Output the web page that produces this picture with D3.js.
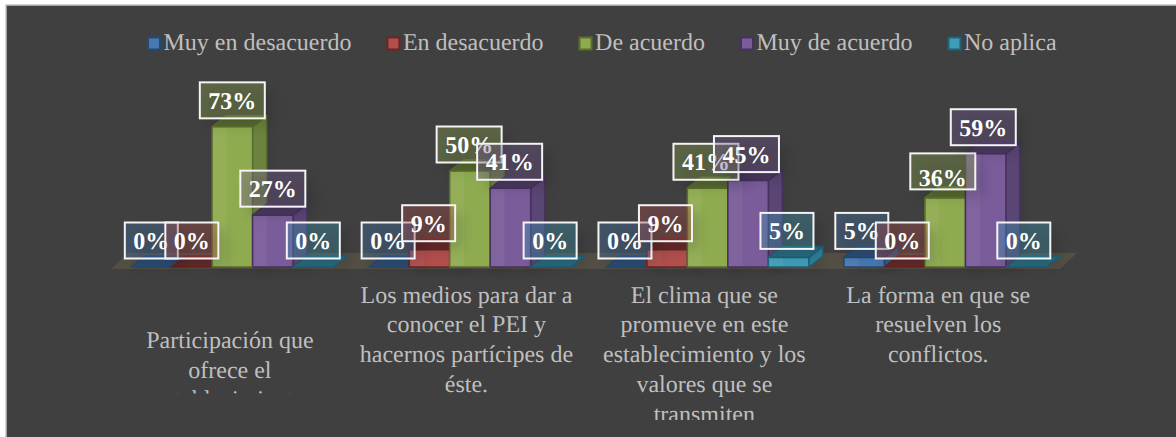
<!DOCTYPE html>
<html><head><meta charset="utf-8">
<script src="https://cdn.jsdelivr.net/npm/d3@7"></script>
<style>html,body{margin:0;padding:0;background:#fff;overflow:hidden}svg{display:block}text{font-family:"Liberation Serif",serif;text-rendering:geometricPrecision}</style>
</head><body><svg id="c" width="1176" height="437"></svg>
<script>
const categories = ["Participación que ofrece el establecimiento","Los medios para dar a conocer el PEI y hacernos partícipes de éste.","El clima que se promueve en este establecimiento y los valores que se transmiten","La forma en que se resuelven los conflictos."];
const categoryLines = [
  ["Participación que","ofrece el","establecimiento"],
  ["Los medios para dar a","conocer el PEI y","hacernos partícipes de","éste."],
  ["El clima que se","promueve en este","establecimiento y los","valores que se","transmiten"],
  ["La forma en que se","resuelven los","conflictos."]
];
const seriesNames = ["Muy en desacuerdo","En desacuerdo","De acuerdo","Muy de acuerdo","No aplica"];
const muyEnDesacuerdo = [0,0,0,5];
const enDesacuerdo = [0,9,9,0];
const deAcuerdo = [73,50,41,36];
const muyDeAcuerdo = [27,41,45,59];
const noAplica = [0,0,5,0];
const seriesValues = [muyEnDesacuerdo,enDesacuerdo,deAcuerdo,muyDeAcuerdo,noAplica];
const baseColors = ["#4878b0","#b04f4c","#8fab50","#795c99","#3f9db8"];
const edgeColors = ["#234a75","#6d2523","#5a6f2e","#47325f","#1f6277"];
const sideColors = ["#38608c","#7e3634","#6d823e","#5a4674","#2e7f96"];
const topColors  = ["#2d4e74","#652b2a","#566930","#4a3a60","#2a6b80"];

const svg = d3.select("#c");
const defs = svg.append("defs");
const f = defs.append("filter").attr("id","sh").attr("x","-30%").attr("y","-30%").attr("width","170%").attr("height","170%");
f.append("feGaussianBlur").attr("stdDeviation",6);
const W=1176,H=437, DX=14, DY=-11, base=267;
svg.append("rect").attr("width",W).attr("height",H).attr("fill","#fff");
svg.append("rect").attr("x",6).attr("y",5).attr("width",W).attr("height",H).attr("fill","#404040").attr("stroke","#c4c4c4").attr("stroke-width",1.5);

const x0 = d3.scaleBand().domain(d3.range(categories.length)).range([113.5,1064]);
const x1 = d3.scaleBand().domain(d3.range(seriesNames.length)).range([-101.25,101.25]);
const y = d3.scaleLinear().domain([0,80]).range([base,base-153.6]);
const line = d3.line();

// legend
const leg = svg.append("g");
let lx = 147;
seriesNames.forEach((n,i)=>{
  leg.append("rect").attr("x",lx+1).attr("y",37.5).attr("width",12).attr("height",12)
    .attr("fill",baseColors[i]).attr("stroke",edgeColors[i]).attr("stroke-width",2);
  const t = leg.append("text").attr("x",lx+16.5).attr("y",50).attr("font-size",24).attr("fill","#bfbfbf").text(n);
  lx += 16.5 + t.node().getComputedTextLength() + 35;
});

// floor
const fl = x0.range();
svg.append("path").attr("d",line([[fl[0]-2,269],[fl[1]-4,269],[fl[1]+13,253],[fl[0]+14,253]])).attr("fill","#544f45");

// bars
const barG = svg.append("g");
categories.forEach((c,ci)=>{
  seriesValues.forEach((vals,si)=>{
    const v = vals[ci], l = x0(ci)+x0.bandwidth()/2+x1(si), t = y(v);
    if(v>0) barG.append("rect").attr("x",l+6).attr("y",t+4).attr("width",x1.bandwidth()+8).attr("height",base-t)
      .attr("fill","#000").attr("opacity",.13).attr("filter","url(#sh)");
  });
});
categories.forEach((c,ci)=>{
  seriesValues.forEach((vals,si)=>{
    const v = vals[ci], l = x0(ci)+x0.bandwidth()/2+x1(si), r = l+x1.bandwidth(), t = y(v);
    const g = barG.append("g").attr("stroke",edgeColors[si]).attr("stroke-width",1.5).attr("stroke-linejoin","round");
    g.append("path").attr("d",line([[r,t],[r+DX,t+DY],[r+DX,base+DY],[r,base]])+"Z").attr("fill",sideColors[si]);
    g.append("path").attr("d",line([[l,t],[r,t],[r+DX,t+DY],[l+DX,t+DY]])+"Z").attr("fill",topColors[si]);
    if(v>0){
      g.append("rect").attr("x",l).attr("y",t).attr("width",r-l).attr("height",base-t).attr("fill",baseColors[si]);
      barG.append("rect").attr("x",l+1).attr("y",t+1).attr("width",(r-l)/3).attr("height",Math.max(0,base-t-2)).attr("fill","#fff").attr("opacity",.05);
    }
  });
});

// data labels
const lab = svg.append("g");
const pct = v=>v+"%";
categories.forEach((c,ci)=>{
  seriesValues.forEach((vals,si)=>{
    const v = vals[ci], cx = x0(ci)+x0.bandwidth()/2+x1(si)+x1.bandwidth()/2 - ci*0.8, t = y(v);
    const tmp = lab.append("text").attr("font-size",24).attr("font-weight","bold").text(pct(v));
    const w = tmp.node().getComputedTextLength()+17; tmp.remove();
    const top = t-8.5-36;
    lab.append("rect").attr("x",cx-w/2+8).attr("y",top+8).attr("width",w).attr("height",36).attr("fill","#000").attr("opacity",.12).attr("filter","url(#sh)");
    lab.append("rect").attr("x",cx-w/2).attr("y",top).attr("width",w).attr("height",36)
      .attr("fill",baseColors[si]).attr("fill-opacity",.35).attr("stroke","#f4f4f4").attr("stroke-width",2);
    lab.append("text").attr("x",cx).attr("y",top+ (v===36?33:26.5)).attr("text-anchor","middle")
      .attr("font-size",24).attr("font-weight","bold").attr("fill","#fff").text(pct(v));
  });
});

// category labels
const firstBaseline = [348,302.7,302.7,302.7], clipBottom = [393.6,420,420,420], labelShift = [-2.4,-3.5,-3.2,-6.9];
categoryLines.forEach((ls,ci)=>{
  const id="cl"+ci;
  defs.append("clipPath").attr("id",id).append("rect").attr("x",0).attr("y",270).attr("width",W).attr("height",clipBottom[ci]-270);
  const g = svg.append("g").attr("clip-path",`url(#${id})`);
  g.selectAll("text").data(ls).join("text")
    .attr("x",x0(ci)+x0.bandwidth()/2+labelShift[ci]).attr("y",(d,i)=>firstBaseline[ci]+i*29.7)
    .attr("text-anchor","middle").attr("font-size",24).attr("fill","#bfbfbf").text(d=>d);
});
</script></body></html>
